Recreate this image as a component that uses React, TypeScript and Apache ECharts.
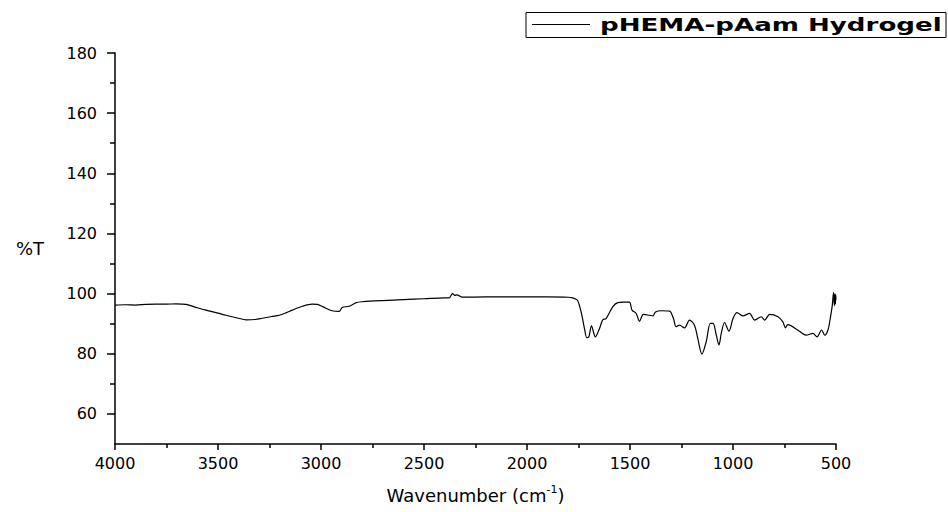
import React, { useEffect, useRef } from 'react';
import * as echarts from 'echarts';

const seriesName = 'pHEMA-pAam Hydrogel';

const wavenumbers = [
  4000, 3950, 3900, 3850, 3800, 3750, 3704, 3655, 3600, 3558, 3500, 3461, 3400, 3363, 3320, 3286,
  3240, 3203, 3170, 3140, 3090, 3043, 3018, 2990, 2946, 2912, 2897, 2863, 2829, 2800, 2700, 2600,
  2500, 2400, 2377, 2362, 2350, 2340, 2314, 2200, 2000, 1900, 1800, 1779, 1755, 1736, 1721, 1710,
  1700, 1687, 1668, 1648, 1632, 1616, 1584, 1560, 1530, 1503, 1490, 1470, 1454, 1435, 1405, 1389,
  1376, 1349, 1308, 1289, 1276, 1260, 1235, 1211, 1187, 1171, 1151, 1130, 1110, 1097, 1081, 1068,
  1057, 1041, 1020, 1000, 981, 952, 920, 895, 863, 846, 822, 782, 758, 745, 734, 678,
  644, 612, 592, 570, 555, 539, 528, 518, 512, 508, 505, 503, 501, 500,
];

const transmittance = [
  96.2, 96.3, 96.2, 96.4, 96.5, 96.5, 96.6, 96.4, 95.3, 94.5, 93.5, 92.8, 91.8, 91.3, 91.4, 91.8,
  92.4, 92.8, 93.6, 94.5, 95.8, 96.5, 96.4, 95.6, 94.3, 94.1, 95.4, 95.8, 97.0, 97.3, 97.7, 98.0,
  98.3, 98.6, 98.6, 100.0, 99.4, 99.6, 98.8, 98.9, 98.9, 98.9, 98.8, 98.6, 97.8, 93.5, 88.4, 85.4,
  85.6, 89.3, 85.6, 88.4, 91.3, 91.7, 95.6, 97.0, 97.2, 97.2, 94.5, 93.4, 90.8, 93.1, 92.8, 92.6,
  93.9, 94.3, 94.2, 91.7, 89.0, 89.5, 88.6, 91.2, 89.5, 85.1, 79.9, 84.0, 90.1, 90.1, 86.2, 82.9,
  86.8, 90.4, 87.5, 91.7, 93.7, 92.6, 93.4, 91.2, 92.3, 91.2, 93.1, 92.3, 90.6, 88.6, 89.7, 87.5,
  86.2, 86.8, 85.6, 87.9, 86.2, 87.9, 91.7, 96.1, 100.4, 96.0, 100.0, 96.5, 99.6, 98.0,
];

const yMajorTicks = [60, 80, 100, 120, 140, 160, 180];
const yMinorTicks = [70, 90, 110, 130, 150, 170];

const FONT = 'DejaVu Sans';

export default function App() {
  const ref = useRef<HTMLDivElement>(null);

  useEffect(() => {
    document.body.style.margin = '0';
    const chart = echarts.init(ref.current as HTMLDivElement, null, { renderer: 'svg' });
    const data = wavenumbers.map((w, i) => [w, transmittance[i]]);

    const axisLineStyle = { color: '#000', width: 1.5 };

    chart.setOption({
      animation: false,
      backgroundColor: '#fff',
      grid: { left: 115, right: 112, top: 53, bottom: 68, containLabel: false },
      xAxis: {
        type: 'value',
        inverse: true,
        min: 500,
        max: 4000,
        interval: 500,
        name: '{a|Wavenumber (cm}{b|-1}{a|)}',
        nameLocation: 'middle',
        nameGap: 40,
        nameTextStyle: {
          color: '#000',
          fontFamily: FONT,
          fontSize: 18,
          rich: {
            a: { fontFamily: FONT, fontSize: 18, color: '#000', lineHeight: 22 },
            b: { fontFamily: FONT, fontSize: 11, color: '#000', verticalAlign: 'top', lineHeight: 12 },
          },
        },
        axisLine: { show: true, onZero: false, lineStyle: axisLineStyle },
        axisTick: { show: true, inside: false, length: 6, lineStyle: axisLineStyle },
        minorTick: { show: true, splitNumber: 2, length: 4, lineStyle: { color: '#000', width: 1.5 } },
        axisLabel: {
          color: '#000',
          fontFamily: FONT,
          fontSize: 16,
          margin: 11,
          formatter: (v: number) => String(v),
        },
        splitLine: { show: false },
      },
      yAxis: [
        {
          type: 'value',
          min: 50,
          max: 180,
          name: '%T',
          nameLocation: 'middle',
          nameRotate: 0,
          nameGap: 71,
          nameTextStyle: { color: '#000', fontFamily: FONT, fontSize: 18 },
          axisLine: { show: true, onZero: false, lineStyle: axisLineStyle },
          axisTick: { show: true, length: 8, customValues: yMajorTicks, lineStyle: axisLineStyle },
          axisLabel: {
            color: '#000',
            fontFamily: FONT,
            fontSize: 16,
            margin: 18,
            customValues: yMajorTicks,
            formatter: (v: number) => String(v),
          },
          splitLine: { show: false },
        },
        {
          type: 'value',
          min: 50,
          max: 180,
          position: 'left',
          offset: 0,
          axisLine: { show: false },
          axisTick: { show: true, length: 5, customValues: yMinorTicks, lineStyle: axisLineStyle },
          axisLabel: { show: false },
          splitLine: { show: false },
        },
      ],
      series: [
        {
          name: seriesName,
          type: 'line',
          data,
          symbol: 'none',
          showSymbol: false,
          smooth: 0.3,
          lineStyle: { color: '#000', width: 1.2 },
          itemStyle: { color: '#000' },
        },
      ],
      graphic: [
        {
          type: 'group',
          children: [
            {
              type: 'rect',
              shape: { x: 526, y: 12.5, width: 420, height: 25 },
              style: { fill: '#fff', stroke: '#000', lineWidth: 1 },
            },
            {
              type: 'line',
              shape: { x1: 532, y1: 24.5, x2: 590, y2: 24.5 },
              style: { stroke: '#000', lineWidth: 1 },
            },
            {
              type: 'text',
              x: 600,
              y: 25,
              scaleX: 1.45,
              style: {
                text: seriesName,
                fontFamily: FONT,
                fontWeight: 'bold',
                fontSize: 18,
                fill: '#000',
                verticalAlign: 'middle',
                align: 'left',
              },
            },
          ],
        },
      ],
    });

    return () => chart.dispose();
  }, []);

  return <div ref={ref} style={{ width: 948, height: 512 }} />;
}
